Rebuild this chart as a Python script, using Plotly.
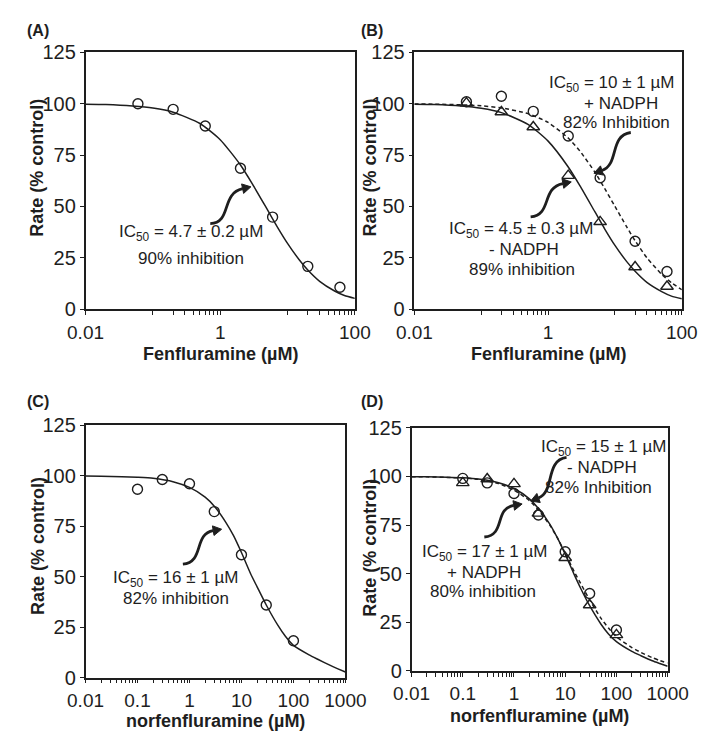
import math
import plotly.graph_objects as go

W, H = 709, 734

# ---------------- data ----------------
fen_x = [0.06, 0.2, 0.6, 2, 6, 20, 60]
A_rate = [100, 97.3, 89.2, 68.6, 44.8, 20.8, 10.6]
B_plus_nadph = [101, 103.7, 96.3, 84.3, 64, 33, 18.3]
B_minus_nadph = [100.3, 96, 88.7, 65, 42.5, 20.5, 11]

nor_x = [0.1, 0.3, 1, 3, 10, 30, 100]
C_rate = [93.4, 98.2, 96.1, 82.3, 60.9, 36, 18.3]
D_plus_nadph = [99, 96.7, 91.2, 80.2, 61.3, 39.8, 21]
D_minus_nadph = [96.7, 98.7, 96.2, 81, 58.2, 33.9, 18.5]

# fitted curves
fen_fit_x = [0.01, 0.02, 0.05, 0.1, 0.2, 0.5, 1, 2, 3, 5, 7, 10, 15, 20, 30, 50, 70, 100]
A_fit = [99.8, 99.6, 98.9, 97.9, 95.9, 90.4, 82.5, 70.2, 61.0, 48.5, 40.2, 32.0, 23.9, 19.0, 13.5, 8.8, 6.6, 5.2]
B_fit_minus = [99.8, 99.6, 98.9, 97.8, 95.7, 90.0, 81.8, 69.2, 60.0, 47.4, 39.1, 31.0, 23.1, 18.4, 13.0, 8.5, 6.3, 5.0]
B_fit_plus = [99.9, 99.8, 99.5, 99.0, 98.0, 95.2, 90.9, 83.3, 76.9, 66.7, 58.8, 50.0, 40.0, 33.3, 25.0, 16.9, 12.8, 9.4]

nor_fit_x = [0.01, 0.02, 0.05, 0.1, 0.2, 0.5, 1, 2, 3, 5, 7, 10, 15, 20, 30, 50, 70, 100,
             200, 300, 500, 700, 1000]
C_fit = [99.9, 99.8, 99.6, 99.3, 98.8, 97.0, 94.3, 89.5, 85.0, 77.0, 70.5, 62.0, 51.5, 45.0,
         36.0, 26.0, 20.5, 16.0, 11.3, 9.0, 6.2, 4.5, 2.8]
D_fit_minus = [99.9, 99.8, 99.6, 99.3, 98.7, 96.8, 93.8, 88.5, 83.5, 75.5, 68.5, 60.0, 49.5, 42.5,
               33.5, 24.0, 19.0, 15.0, 10.0, 7.8, 5.2, 3.8, 2.4]
D_fit_plus = [99.9, 99.8, 99.5, 99.2, 98.5, 96.3, 93.0, 87.6, 82.7, 75.0, 68.5, 60.5, 51.0, 45.0,
              36.5, 27.0, 22.0, 17.5, 12.0, 9.5, 6.8, 5.3, 4.0]

y_ticks = [0, 25, 50, 75, 100, 125]
fen_tick_vals = [0.01, 1, 100]
fen_tick_text = ["0.01", "1", "100"]
nor_tick_vals = [0.01, 0.1, 1, 10, 100, 1000]
nor_tick_text = ["0.01", "0.1", "1", "10", "100", "1000"]

# ---------------- styling ----------------
INK = "#1e1e1e"
FONT = "Liberation Sans, Arial, sans-serif"
TICK_FS = 19
ANN_FS = 17
TITLE_FS = 18


def px(x):
    return x / W


def py(y):
    return 1 - y / H


def fen_minor():
    # the reference shows minor ticks only in the 0.1-1 and 10-100 decades
    return [0.1] + [k * 0.1 for k in range(2, 10)] + [10] + [k * 10 for k in range(2, 10)]


def nor_minor():
    vals = []
    for e in range(-2, 3):
        for k in range(2, 10):
            vals.append(k * 10 ** e)
    return vals


fig = go.Figure()

line_solid = dict(color=INK, width=1.5, shape="spline", smoothing=0.6)
line_dash = dict(color=INK, width=1.5, dash="4px,3px", shape="spline", smoothing=0.6)
circ = dict(symbol="circle-open", size=10, color=INK, line=dict(width=1.4, color=INK))
tri = dict(symbol="triangle-up-open", size=11, color=INK, line=dict(width=1.4, color=INK))

# Panel A
fig.add_trace(go.Scatter(x=fen_fit_x, y=A_fit, mode="lines", line=line_solid, xaxis="x", yaxis="y"))
fig.add_trace(go.Scatter(x=fen_x, y=A_rate, mode="markers", marker=circ, xaxis="x", yaxis="y"))
# Panel B
fig.add_trace(go.Scatter(x=fen_fit_x, y=B_fit_minus, mode="lines", line=line_solid, xaxis="x2", yaxis="y2"))
fig.add_trace(go.Scatter(x=fen_fit_x, y=B_fit_plus, mode="lines", line=line_dash, xaxis="x2", yaxis="y2"))
fig.add_trace(go.Scatter(x=fen_x, y=B_plus_nadph, mode="markers", marker=circ, xaxis="x2", yaxis="y2"))
fig.add_trace(go.Scatter(x=fen_x, y=B_minus_nadph, mode="markers", marker=tri, xaxis="x2", yaxis="y2"))
# Panel C
fig.add_trace(go.Scatter(x=nor_fit_x, y=C_fit, mode="lines", line=line_solid, xaxis="x3", yaxis="y3"))
fig.add_trace(go.Scatter(x=nor_x, y=C_rate, mode="markers", marker=circ, xaxis="x3", yaxis="y3"))
# Panel D
fig.add_trace(go.Scatter(x=nor_fit_x, y=D_fit_minus, mode="lines", line=line_solid, xaxis="x4", yaxis="y4"))
fig.add_trace(go.Scatter(x=nor_fit_x, y=D_fit_plus, mode="lines", line=line_dash, xaxis="x4", yaxis="y4"))
fig.add_trace(go.Scatter(x=nor_x, y=D_plus_nadph, mode="markers", marker=circ, xaxis="x4", yaxis="y4"))
fig.add_trace(go.Scatter(x=nor_x, y=D_minus_nadph, mode="markers", marker=tri, xaxis="x4", yaxis="y4"))

# panel boxes in pixels: (left, right, top, bottom)
boxes = {
    "1": (63, 348, 34.5, 299),
    "2": (411, 694, 34.5, 299),
    "3": (63, 338, 419, 679),
    "4": (408, 679, 421.5, 672),
}


def xaxis_cfg(box, vals, labels, minor_vals, rng, anchor):
    l, r, t, b = box
    return dict(
        type="log", range=rng, domain=[px(l), px(r)], anchor=anchor,
        showline=True, linecolor=INK, linewidth=1.5, mirror=True,
        ticks="outside", ticklen=4, tickwidth=1, tickcolor=INK,
        tickmode="array", tickvals=vals, ticktext=labels,
        minor=dict(tickmode="array", tickvals=minor_vals, ticks="outside", ticklen=4,
                   tickwidth=1, tickcolor=INK, showgrid=False),
        tickfont=dict(family=FONT, size=TICK_FS, color=INK),
        ticklabelstandoff=1,
        showgrid=False, zeroline=False,
    )


def yaxis_cfg(box, anchor):
    l, r, t, b = box
    return dict(
        range=[0, 125], domain=[py(b), py(t)], anchor=anchor,
        showline=True, linecolor=INK, linewidth=1.5, mirror=True,
        ticks="outside", ticklen=4, tickwidth=1, tickcolor=INK,
        tickvals=y_ticks, ticktext=[str(v) for v in y_ticks],
        tickfont=dict(family=FONT, size=TICK_FS + 1, color=INK),
        showgrid=False, zeroline=False,
    )


fig.update_layout(
    width=W, height=H, autosize=False,
    margin=dict(l=0, r=0, t=0, b=0),
    paper_bgcolor="white", plot_bgcolor="white",
    showlegend=False,
    xaxis=xaxis_cfg(boxes["1"], fen_tick_vals, fen_tick_text, fen_minor(), [-2, 2], "y"),
    yaxis=yaxis_cfg(boxes["1"], "x"),
    xaxis2=xaxis_cfg(boxes["2"], fen_tick_vals, fen_tick_text, fen_minor(), [-2, 2], "y2"),
    yaxis2=yaxis_cfg(boxes["2"], "x2"),
    xaxis3=xaxis_cfg(boxes["3"], nor_tick_vals, nor_tick_text, nor_minor(), [-2, 3], "y3"),
    yaxis3=yaxis_cfg(boxes["3"], "x3"),
    xaxis4=xaxis_cfg(boxes["4"], nor_tick_vals, nor_tick_text, nor_minor(), [-2, 3], "y4"),
    yaxis4=yaxis_cfg(boxes["4"], "x4"),
)

annotations = []


def text(x, y, s, size=ANN_FS, bold=False, angle=0):
    if bold:
        s = "<b>" + s + "</b>"
    annotations.append(dict(
        x=px(x), y=py(y), xref="paper", yref="paper", text=s, showarrow=False,
        xanchor="center", yanchor="middle", textangle=angle,
        font=dict(family=FONT, size=size, color=INK),
    ))


# panel labels
text(13, 12, "(A)", size=16, bold=True)
text(366, 12, "(B)", size=16, bold=True)
text(13, 394, "(C)", size=16, bold=True)
text(366, 394, "(D)", size=16, bold=True)

# axis titles
text(205.5, 345, "Fenfluramine (µM)", size=TITLE_FS, bold=True)
text(552.5, 345, "Fenfluramine (µM)", size=TITLE_FS, bold=True)
text(200.5, 724, "norfenfluramine (µM)", size=TITLE_FS, bold=True)
text(543.5, 719, "norfenfluramine (µM)", size=TITLE_FS, bold=True)
text(12, 153, "Rate (% control)", size=TITLE_FS, bold=True, angle=-90)
text(364, 153, "Rate (% control)", size=TITLE_FS, bold=True, angle=-90)
text(12, 543, "Rate (% control)", size=TITLE_FS, bold=True, angle=-90)
text(364, 545, "Rate (% control)", size=TITLE_FS, bold=True, angle=-90)

# in-plot labels
text(175, 221, "IC<sub>50</sub> = 4.7 ± 0.2 µM")
text(175, 247, "90% inhibition")

text(620, 67, "IC<sub>50</sub> = 10 ± 1 µM")
text(630, 87, "+ NADPH")
text(625, 107, "82% Inhibition")

text(524, 218, "IC<sub>50</sub> = 4.5 ± 0.3 µM")
text(527, 238, "- NADPH")
text(525, 258, "89% inhibition")

text(158, 577, "IC<sub>50</sub> = 16 ± 1 µM")
text(159, 597, "82% inhibition")

text(611, 442, "IC<sub>50</sub> = 15 ± 1 µM")
text(610, 462, "- NADPH")
text(606, 483, "82% Inhibition")

text(485, 551, "IC<sub>50</sub> = 17 ± 1 µM")
text(485, 571, "+ NADPH")
text(484, 590, "80% inhibition")

fig.update_layout(annotations=annotations)

# curved arrows (pixel geometry -> paper coords)
shapes = []


def curved_arrow(p0, c1, c2, tip, head_len=9.0, head_w=5.0):
    dx, dy = tip[0] - c2[0], tip[1] - c2[1]
    n = math.hypot(dx, dy)
    dx, dy = dx / n, dy / n
    base = (tip[0] - dx * head_len, tip[1] - dy * head_len)
    path = "M {} {} C {} {}, {} {}, {} {}".format(
        px(p0[0]), py(p0[1]), px(c1[0]), py(c1[1]), px(c2[0]), py(c2[1]), px(base[0]), py(base[1]))
    shapes.append(dict(type="path", xref="paper", yref="paper", path=path,
                       line=dict(color=INK, width=2.8), fillcolor="rgba(0,0,0,0)"))
    nx, ny = -dy, dx
    a = (base[0] + nx * head_w, base[1] + ny * head_w)
    b = (base[0] - nx * head_w, base[1] - ny * head_w)
    tri_path = "M {} {} L {} {} L {} {} Z".format(
        px(tip[0]), py(tip[1]), px(a[0]), py(a[1]), px(b[0]), py(b[1]))
    shapes.append(dict(type="path", xref="paper", yref="paper", path=tri_path,
                       line=dict(color=INK, width=1), fillcolor=INK))


curved_arrow((195, 211), (218, 210), (206, 180), (238, 173))
curved_arrow((640, 117), (617, 120), (628, 150), (601, 159))
curved_arrow((534, 204), (557, 202), (545, 174), (577, 168))
curved_arrow((166, 562), (189, 560), (177, 531), (207, 526))
curved_arrow((572, 452), (549, 455), (560, 487), (534, 497))
curved_arrow((485, 534), (508, 532), (495, 505), (525, 500))

fig.update_layout(shapes=shapes)

fig.write_html("out.html")
